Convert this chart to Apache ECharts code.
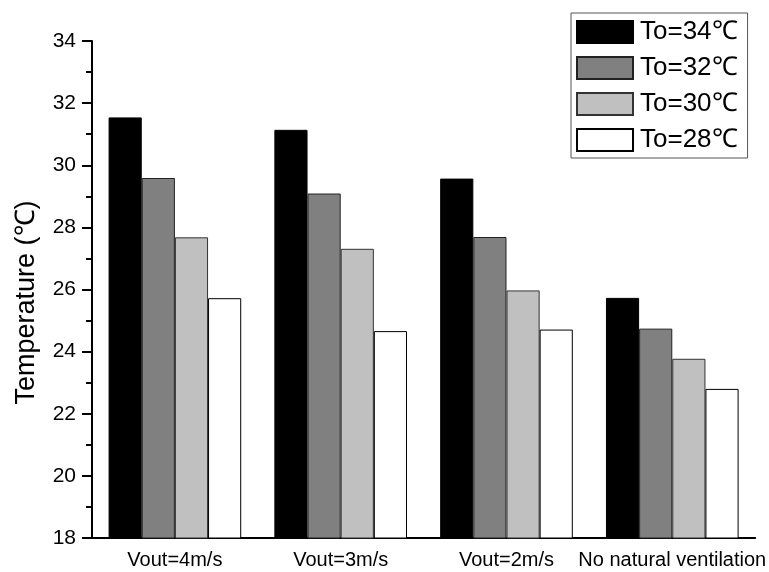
<!DOCTYPE html>
<html>
<head>
<meta charset="utf-8">
<script src="https://cdn.jsdelivr.net/npm/echarts@6/dist/echarts.min.js"></script>
<style>html,body{margin:0;padding:0;background:#fff}#c{width:769px;height:572px}</style>
</head>
<body>
<div id="c"></div>
<script>
const categories = ['Vout=4m/s', 'Vout=3m/s', 'Vout=2m/s', 'No natural ventilation'];
const seriesNames = ['To=34\u2103', 'To=32\u2103', 'To=30\u2103', 'To=28\u2103'];
const to34 = [31.54, 31.14, 29.57, 25.73];
const to32 = [29.59, 29.09, 27.69, 24.74];
const to30 = [27.68, 27.31, 25.97, 23.77];
const to28 = [25.72, 24.66, 24.71, 22.80];
const yTitle = 'Temperature (\u2103)';

const fills = ['#000000', '#808080', '#c0c0c0', '#ffffff'];
const edges = ['#000000', '#222222', '#333333', '#000000'];
const FONT = 'Liberation Sans, Arial, sans-serif';

const chart = echarts.init(document.getElementById('c'), null, {renderer: 'canvas'});
const values = [to34, to32, to30, to28];
chart.setOption({
  animation: false,
  backgroundColor: '#fff',
  grid: {left: 92, right: 12, top: 41, bottom: 34, containLabel: false},
  legend: {
    orient: 'vertical', left: 571, top: 13, width: 176,
    padding: [6, 10, 5, 5], itemWidth: 56, itemHeight: 22, itemGap: 10,
    borderColor: '#555', borderWidth: 1,
    icon: 'rect',
    textStyle: {fontFamily: FONT, fontSize: 26, color: '#000', lineHeight: 22, padding: [0, 0, 0, 2]},
    data: seriesNames
  },
  xAxis: [{
    type: 'category', data: categories, position: 'bottom',
    axisLine: {lineStyle: {color: '#000', width: 2}},
    axisTick: {alignWithLabel: true, inside: false, length: 10, lineStyle: {color: '#000', width: 2}},
    axisLabel: {fontFamily: FONT, fontSize: 20, color: '#000', margin: 12, interval: 0},
    splitLine: {show: false}
  }, {
    type: 'category', data: categories, position: 'bottom',
    axisLine: {show: false},
    axisTick: {inside: false, length: 5, lineStyle: {color: '#000', width: 2}},
    axisLabel: {show: false},
    splitLine: {show: false}
  }],
  yAxis: {
    type: 'value', min: 18, max: 34, interval: 2,
    name: yTitle, nameLocation: 'middle', nameGap: 52, nameRotate: 90,
    nameTextStyle: {fontFamily: FONT, fontSize: 27, color: '#000', padding: [0, 26, 0, 0]},
    axisLine: {show: true, lineStyle: {color: '#000', width: 2}},
    axisTick: {show: true, inside: false, length: 10, lineStyle: {color: '#000', width: 2}},
    minorTick: {show: true, splitNumber: 2, length: 6, lineStyle: {color: '#000', width: 2}},
    axisLabel: {fontFamily: FONT, fontSize: 21, color: '#000', margin: 16},
    splitLine: {show: false}
  },
  series: seriesNames.map((n, i) => ({
    name: n, type: 'bar', data: values[i], xAxisIndex: 0,
    barGap: '0%', barCategoryGap: '20%',
    itemStyle: {color: fills[i], borderColor: edges[i], borderWidth: 1}
  }))
});
</script>
</body>
</html>
